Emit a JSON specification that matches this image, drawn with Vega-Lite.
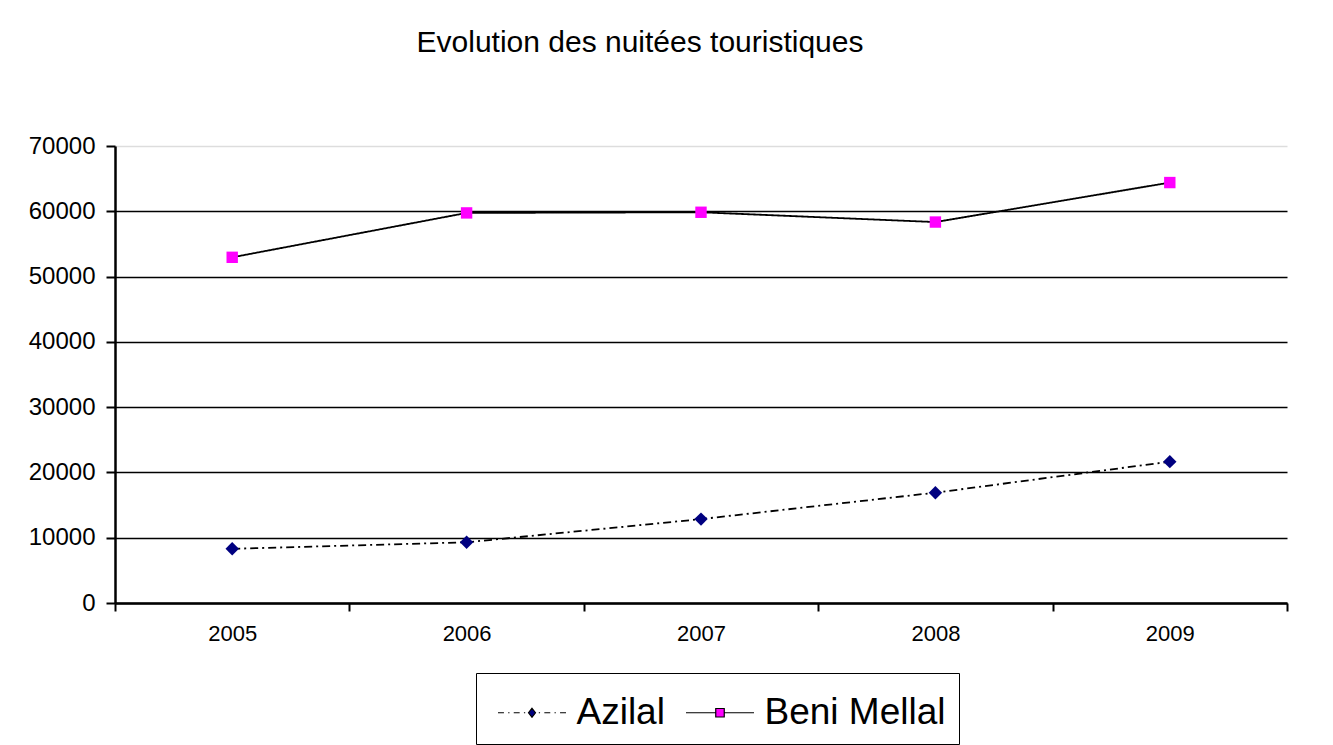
{
  "$schema": "https://vega.github.io/schema/vega-lite/v6.json",
  "width": 1172,
  "height": 457,
  "autosize": "none",
  "padding": {"left": 115, "top": 146, "right": 46, "bottom": 142},
  "background": "white",
  "config": {
    "font": "Liberation Sans",
    "view": {"stroke": null}
  },
  "title": {
    "text": "Evolution des nuitées touristiques",
    "fontSize": 30,
    "fontWeight": "normal",
    "color": "black",
    "anchor": "middle",
    "dx": -61,
    "offset": 76
  },
  "data": {
    "values": [
      {"year": "2005", "series": "Azilal", "value": 8300},
      {"year": "2006", "series": "Azilal", "value": 9300},
      {"year": "2007", "series": "Azilal", "value": 12850},
      {"year": "2008", "series": "Azilal", "value": 16900},
      {"year": "2009", "series": "Azilal", "value": 21650},
      {"year": "2005", "series": "Beni Mellal", "value": 52950},
      {"year": "2006", "series": "Beni Mellal", "value": 59750},
      {"year": "2007", "series": "Beni Mellal", "value": 59850},
      {"year": "2008", "series": "Beni Mellal", "value": 58350},
      {"year": "2009", "series": "Beni Mellal", "value": 64400}
    ]
  },
  "encoding": {
    "x": {
      "field": "year",
      "type": "nominal",
      "title": null,
      "scale": {"paddingInner": 0, "paddingOuter": 0},
      "axis": {
        "labelAngle": 0,
        "labelFontSize": 22,
        "labelColor": "black",
        "labelPadding": 12,
        "tickBand": "extent",
        "tickSize": 8,
        "tickColor": "black",
        "tickWidth": 2,
        "domainColor": "black",
        "domainWidth": 2.5,
        "grid": false
      }
    },
    "y": {
      "field": "value",
      "type": "quantitative",
      "title": null,
      "scale": {"domain": [0, 70000], "nice": false},
      "axis": {
        "values": [0, 10000, 20000, 30000, 40000, 50000, 60000, 70000],
        "format": "d",
        "labelFontSize": 24,
        "labelColor": "black",
        "labelPadding": 11,
        "tickSize": 9,
        "tickColor": "black",
        "tickWidth": 2,
        "domainColor": "black",
        "domainWidth": 2.5,
        "grid": true,
        "gridColor": {"condition": {"test": "datum.value === 70000", "value": "#dddddd"}, "value": "black"},
        "gridWidth": 1.6,
        "gridOpacity": 1
      }
    }
  },
  "layer": [
    {
      "mark": {"type": "line", "color": "black", "strokeWidth": 1.8},
      "encoding": {
        "detail": {"field": "series"},
        "strokeDash": {
          "field": "series",
          "type": "nominal",
          "scale": {"domain": ["Azilal", "Beni Mellal"], "range": [[8, 4, 2, 4], [1, 0]]},
          "legend": null
        }
      }
    },
    {
      "mark": {"type": "point", "filled": true, "opacity": 1},
      "encoding": {
        "color": {
          "field": "series",
          "type": "nominal",
          "scale": {"domain": ["Azilal", "Beni Mellal"], "range": ["#000080", "#ff00ff"]},
          "legend": null
        },
        "shape": {
          "field": "series",
          "type": "nominal",
          "scale": {"domain": ["Azilal", "Beni Mellal"], "range": ["diamond", "square"]},
          "legend": null
        },
        "size": {
          "field": "series",
          "type": "nominal",
          "scale": {"domain": ["Azilal", "Beni Mellal"], "range": [180, 130]},
          "legend": null
        }
      }
    },
    {
      "transform": [{"filter": "datum.value < 0"}],
      "mark": {"type": "point", "filled": true, "opacity": 1},
      "encoding": {
        "color": {
          "field": "series",
          "type": "nominal",
          "scale": {"domain": ["Azilal", "Beni Mellal"], "range": ["#000080", "#ff00ff"]},
          "legend": {
            "title": " ",
            "titleFontSize": 1,
            "titlePadding": 7,
            "orient": "none",
            "legendX": 361,
            "legendY": 527,
            "direction": "horizontal",
            "strokeColor": "black",
            "fillColor": "white",
            "padding": 13,
            "labelFontSize": 37,
            "labelColor": "black",
            "labelLimit": 400,
            "symbolSize": 289,
            "symbolOffset": 24.5,
            "labelOffset": 26,
            "columnPadding": 12,
            "symbolOpacity": 1,
            "encode": {
              "symbols": {
                "update": {
                  "stroke": {"value": "black"},
                  "strokeWidth": {"value": 1.2},
                  "opacity": {"value": 1}
                }
              }
            }
          }
        },
        "shape": {
          "field": "series",
          "type": "nominal",
          "scale": {
            "domain": ["Azilal", "Beni Mellal"],
            "range": [
              "M-4,0H-3.3M-2.8,0H-2.65M-2.15,0H-1.45M-0.95,0H-0.8M0,-0.53L0.41,0L0,0.53L-0.41,0ZM0.8,0H0.95M1.45,0H2.15M2.65,0H2.8M3.3,0H4",
              "M-4,0H-0.5M0.5,0H4M-0.5,-0.5H0.5V0.5H-0.5Z"
            ]
          }
        }
      }
    }
  ],
  "resolve": {
    "scale": {"color": "independent", "shape": "independent"},
    "legend": {"color": "independent", "shape": "independent"}
  }
}
